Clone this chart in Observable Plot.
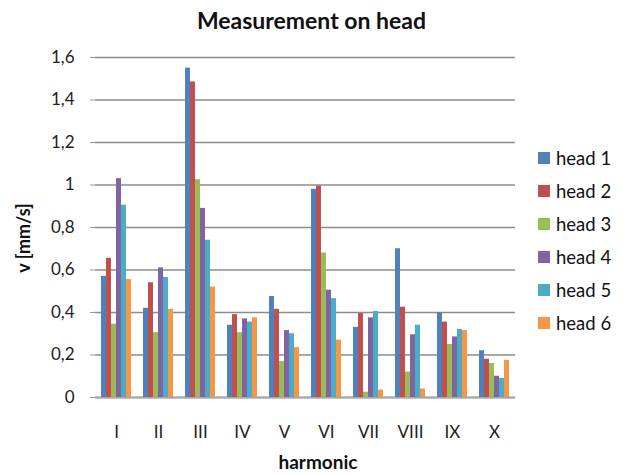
<!DOCTYPE html>
<html><head><meta charset="utf-8">
<script src="https://cdn.jsdelivr.net/npm/d3@7"></script>
<script src="https://cdn.jsdelivr.net/npm/@observablehq/plot@0.6"></script>
<style>
body{margin:0;background:#fff;font-family:Lato,"Open Sans",sans-serif}
#wrap{position:relative;width:623px;height:475px;overflow:hidden}
#wrap svg{position:absolute;left:0;top:0}
.title{position:absolute;top:6px;left:0;width:623px;text-align:center;font-weight:bold;font-size:23px;color:#111;line-height:28px}
.ylab{position:absolute;left:23px;top:238px;transform:translate(-50%,-50%) rotate(-90deg);font-weight:bold;font-size:18px;white-space:nowrap;color:#111}
.xlab{position:absolute;top:450px;left:318px;transform:translateX(-50%);font-weight:bold;font-size:19px;color:#111;line-height:24px}
.legend{position:absolute;left:538px;top:141px}
.legend div{height:33px;display:flex;align-items:center;font-size:18.5px;color:#111;white-space:nowrap}
.legend span.sw{display:inline-block;width:12px;height:12px;margin-right:6px}
</style></head><body><div id="wrap"></div>
<script>
const harmonics = ["I","II","III","IV","V","VI","VII","VIII","IX","X"];
const heads = ["head 1","head 2","head 3","head 4","head 5","head 6"];
const head1 = [0.57, 0.42, 1.55, 0.34, 0.475, 0.98, 0.33, 0.70, 0.40, 0.22];
const head2 = [0.655, 0.54, 1.485, 0.39, 0.415, 0.995, 0.395, 0.425, 0.355, 0.18];
const head3 = [0.345, 0.305, 1.025, 0.305, 0.17, 0.68, 0.025, 0.12, 0.25, 0.16];
const head4 = [1.03, 0.61, 0.89, 0.37, 0.315, 0.505, 0.375, 0.295, 0.285, 0.10];
const head5 = [0.905, 0.565, 0.74, 0.355, 0.30, 0.465, 0.405, 0.34, 0.32, 0.09];
const head6 = [0.555, 0.415, 0.52, 0.375, 0.235, 0.27, 0.035, 0.04, 0.315, 0.175];
const colors = ["#4F81BD","#C0504D","#9BBB59","#8064A2","#4BACC6","#F79646"];
const yTicks = [0, 0.2, 0.4, 0.6, 0.8, 1, 1.2, 1.4, 1.6];
const titleText = "Measurement on head";
const yLabel = "v [mm/s]";
const xLabel = "harmonic";

const series = [head1, head2, head3, head4, head5, head6];
const data = harmonics.flatMap((h, i) => heads.map((s, j) => ({harmonic: h, head: s, v: series[j][i]})));

const chart = Plot.plot({
  width: 623, height: 475,
  marginLeft: 94, marginRight: 108, marginTop: 57, marginBottom: 78,
  style: {fontFamily: "Lato, 'Open Sans', sans-serif", fontSize: "17px", color: "#222", background: "transparent"},
  fx: {domain: harmonics, padding: 0, label: null},
  x: {domain: heads, paddingInner: 0, paddingOuter: 0.6, axis: null},
  y: {domain: [0, 1.6], label: null, axis: null},
  color: {domain: heads, range: colors},
  marks: [
    Plot.gridY(yTicks, {stroke: "#8c8c8c", strokeOpacity: 1, strokeWidth: 1.5}),
    Plot.ruleY([0], {stroke: "#a6a6a6", strokeWidth: 2}),
    Plot.barY(data, {fx: "harmonic", x: "head", y: "v", fill: "head"}),
    Plot.axisY(yTicks, {tickFormat: d => String(d).replace(".", ","), tickSize: 5, tickPadding: 16, stroke: "#999", fill: "#222", label: null, line: true}),
    Plot.axisFx({tickSize: 0, tickPadding: 28, label: null, anchor: "bottom"})
  ]
});
const wrap = document.getElementById("wrap");
wrap.appendChild(chart);
const add = (cls, txt) => { const d = document.createElement("div"); d.className = cls; d.textContent = txt; wrap.appendChild(d); return d; };
add("title", titleText);
add("ylab", yLabel);
add("xlab", xLabel);
const lg = add("legend", "");
heads.forEach((h, i) => {
  const row = document.createElement("div");
  const sw = document.createElement("span"); sw.className = "sw"; sw.style.background = colors[i];
  row.appendChild(sw); row.appendChild(document.createTextNode(h));
  lg.appendChild(row);
});
</script></body></html>
